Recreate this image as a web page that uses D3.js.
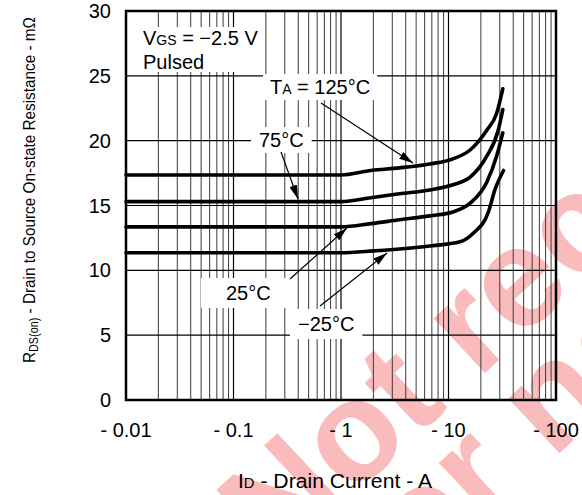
<!DOCTYPE html>
<html>
<head>
<meta charset="utf-8">
<script src="https://cdn.jsdelivr.net/npm/d3@7"></script>
<style>
  html, body { margin: 0; padding: 0; background: #fff; }
  svg { display: block; font-family: "Liberation Sans", Arial, sans-serif; }
</style>
</head>
<body>
<svg id="chart" width="582" height="495"></svg>
<script>
// ---- data ----
const xTickValues = [0.01, 0.1, 1, 10, 100];
const xTickLabels = ["- 0.01", "- 0.1", "- 1", "- 10", "- 100"];
const yTickValues = [0, 5, 10, 15, 20, 25, 30];

const current125 = [0.01, 1.0, 1.9, 3.5, 6.7, 11, 16, 22.7, 28, 32];
const rds125     = [17.35, 17.35, 17.7, 17.9, 18.2, 18.6, 19.3, 20.8, 22.1, 24.0];
const current75  = [0.01, 1.0, 1.9, 3.5, 6.7, 11, 16, 22.7, 29, 32];
const rds75      = [15.3, 15.3, 15.6, 15.9, 16.2, 16.6, 17.2, 18.8, 20.8, 22.4];
const current25  = [0.01, 1.0, 1.9, 3.5, 6.7, 11, 16, 22.7, 28, 32];
const rds25      = [13.35, 13.35, 13.6, 13.9, 14.2, 14.5, 15.2, 16.8, 18.8, 20.6];
const currentM25 = [0.01, 1.0, 2.0, 3.5, 6.7, 12.8, 17, 23.5, 27, 32.5];
const rdsM25     = [11.36, 11.36, 11.5, 11.65, 11.88, 12.2, 12.86, 14.5, 16.2, 17.7];

const seriesNames = ["125", "75", "25", "-25"];

// ---- setup ----
const svg = d3.select("#chart");
const L = 126, R = 556, T = 11, B = 400;
const x = d3.scaleLog().domain([0.01, 100]).range([L, R]);
const y = d3.scaleLinear().domain([0, 30]).range([B, T]);
const FONT = 20, SUB = 14;

// watermark (behind everything)
const wm = svg.append("g").attr("fill", "#f9bbbb").attr("font-weight", "bold").attr("font-size", 142);
wm.append("text").attr("transform", "translate(276,568) rotate(-43)").text("Not recommended");
wm.append("text").attr("transform", "translate(385,616) rotate(-43)").text("for new designs");

// grid: vertical minor lines
const minor = [];
[0.01, 0.1, 1, 10].forEach(d => { for (let k = 2; k <= 9; k++) minor.push(k * d); });
svg.append("g").selectAll("line").data(minor).join("line")
  .attr("x1", d => x(d)).attr("x2", d => x(d))
  .attr("y1", T).attr("y2", B)
  .attr("stroke", "#3a3a3a").attr("stroke-width", 1);
svg.append("g").selectAll("line").data([0.1, 1, 10]).join("line")
  .attr("x1", d => x(d)).attr("x2", d => x(d))
  .attr("y1", T).attr("y2", B)
  .attr("stroke", "#000").attr("stroke-width", 1.2);
// horizontal grid
svg.append("g").selectAll("line").data([5, 10, 15, 20, 25]).join("line")
  .attr("x1", L).attr("x2", R)
  .attr("y1", d => y(d)).attr("y2", d => y(d))
  .attr("stroke", "#000").attr("stroke-width", 1.2);

// label boxes layer (white backgrounds) then labels
const boxLayer = svg.append("g");
const labelLayer = svg.append("g").attr("font-size", FONT).attr("fill", "#000");

function addLabel(parts, tx, ty, pad) {
  const t = labelLayer.append("text").attr("x", tx).attr("y", ty);
  parts.forEach(p => {
    const s = t.append("tspan").text(p.t);
    if (p.small) s.attr("font-size", SUB);
  });
  const bb = t.node().getBBox();
  boxLayer.append("rect")
    .attr("x", bb.x - pad[0]).attr("y", bb.y - pad[1])
    .attr("width", bb.width + 2 * pad[0]).attr("height", bb.height + 2 * pad[1])
    .attr("fill", "#fff");
  return t;
}

// VGS label (two lines, one box)
{
  const t1 = labelLayer.append("text").attr("x", 143).attr("y", 45);
  t1.append("tspan").text("V");
  t1.append("tspan").attr("font-size", SUB).text("GS");
  t1.append("tspan").text(" = \u22122.5 V");
  const t2 = labelLayer.append("text").attr("x", 143).attr("y", 69).text("Pulsed");
  const b1 = t1.node().getBBox(), b2 = t2.node().getBBox();
  const x0 = Math.min(b1.x, b2.x) - 10, x1 = Math.max(b1.x + b1.width, b2.x + b2.width) + 4;
  boxLayer.append("rect").attr("x", x0).attr("y", b1.y)
    .attr("width", x1 - x0).attr("height", (b2.y + b2.height) - b1.y - 1).attr("fill", "#fff");
}
addLabel([{t: "T"}, {t: "A", small: true}, {t: " = 125\u00B0C"}], 270, 94, [7, 2]);
addLabel([{t: "75\u00B0C"}], 259, 147, [8, 2]);
addLabel([{t: "25\u00B0C"}], 226, 300, [25, 4]);
addLabel([{t: "\u221225\u00B0C"}], 298, 331, [8, 4]);

// curves
const allSeries = [
  {name: seriesNames[0], xs: current125, ys: rds125},
  {name: seriesNames[1], xs: current75, ys: rds75},
  {name: seriesNames[2], xs: current25, ys: rds25},
  {name: seriesNames[3], xs: currentM25, ys: rdsM25}
];
const line = d3.line().x(d => x(d[0])).y(d => y(d[1])).curve(d3.curveMonotoneX);
svg.append("g").selectAll("path").data(allSeries).join("path")
  .attr("d", s => line(s.xs.map((v, i) => [v, s.ys[i]])))
  .attr("fill", "none").attr("stroke", "#000").attr("stroke-width", 3.6)
  .attr("stroke-linecap", "round").attr("stroke-linejoin", "round");

// arrows
const defs = svg.append("defs");
defs.append("marker").attr("id", "ah")
  .attr("markerUnits", "userSpaceOnUse")
  .attr("viewBox", "0 0 14 8").attr("refX", 14).attr("refY", 4)
  .attr("markerWidth", 14).attr("markerHeight", 8).attr("orient", "auto")
  .append("path").attr("d", "M0,0 L14,4 L0,8 Z").attr("fill", "#000");
const arrows = [
  [321, 103, 413, 163],
  [281, 152, 298, 199],
  [290, 279, 347, 228],
  [320, 306, 387, 253]
];
svg.append("g").selectAll("line").data(arrows).join("line")
  .attr("x1", d => d[0]).attr("y1", d => d[1]).attr("x2", d => d[2]).attr("y2", d => d[3])
  .attr("stroke", "#000").attr("stroke-width", 1.2).attr("marker-end", "url(#ah)");

// frame
svg.append("rect").attr("x", L).attr("y", T).attr("width", R - L).attr("height", B - T)
  .attr("fill", "none").attr("stroke", "#000").attr("stroke-width", 2.5);

// axes tick labels
svg.append("g").attr("font-size", FONT).selectAll("text").data(yTickValues).join("text")
  .attr("x", 111).attr("y", d => y(d)).attr("dy", "0.35em").attr("text-anchor", "end")
  .text(d => d);
svg.append("g").attr("font-size", FONT).selectAll("text").data(xTickValues).join("text")
  .attr("x", d => x(d)).attr("y", 437).attr("text-anchor", "middle")
  .text((d, i) => xTickLabels[i]);

// axis titles
{
  const t = svg.append("text").attr("x", 335).attr("y", 488).attr("text-anchor", "middle")
    .attr("font-size", FONT).attr("textLength", 194).attr("lengthAdjust", "spacingAndGlyphs");
  t.append("tspan").text("I");
  t.append("tspan").attr("font-size", SUB).text("D");
  t.append("tspan").text(" - Drain Current - A");
}
{
  const t = svg.append("text").attr("transform", "translate(35,190) rotate(-90)")
    .attr("text-anchor", "middle").attr("font-size", 17)
    .attr("textLength", 346).attr("lengthAdjust", "spacingAndGlyphs");
  t.append("tspan").text("R");
  t.append("tspan").attr("font-size", 12).attr("dy", 3).text("DS(on)");
  t.append("tspan").attr("dy", -3).text(" - Drain to Source On-state Resistance - m\u03A9");
}
</script>
</body>
</html>
